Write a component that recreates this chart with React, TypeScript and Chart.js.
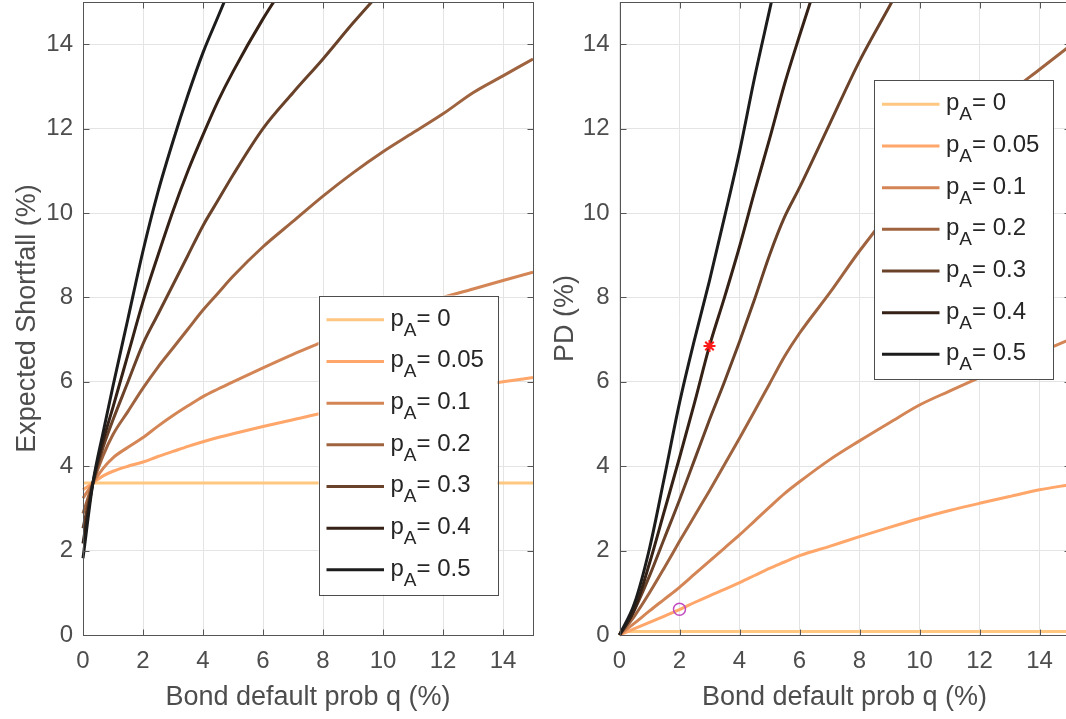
import React, { useEffect, useRef } from 'react';
import { Chart, registerables } from 'chart.js';

Chart.register(...registerables);

// ---------- data ----------
const P_A = [0, 0.05, 0.1, 0.2, 0.3, 0.4, 0.5];
const COLORS = ['#FFC77F', '#FFA66A', '#D48555', '#9F643F', '#6A422A', '#352115', '#1C1C1C'];

const X_TICKS = [0, 2, 4, 6, 8, 10, 12, 14];
const Y_TICKS = [0, 2, 4, 6, 8, 10, 12, 14];

// Left panel: Expected Shortfall (%) vs q (%)
const Q_ES = [0, 0.33, 0.67, 1, 1.5, 2, 2.5, 3, 3.5, 4, 4.5, 5, 6, 7, 8, 9, 10, 11, 12, 13, 14, 15];
const ES_P0 = [3.6, 3.6, 3.6, 3.6, 3.6, 3.6, 3.6, 3.6, 3.6, 3.6, 3.6, 3.6, 3.6, 3.6, 3.6, 3.6, 3.6, 3.6, 3.6, 3.6, 3.6, 3.6];
const ES_P005 = [3.44, 3.6, 3.77, 3.88, 4.0, 4.1, 4.23, 4.35, 4.47, 4.58, 4.68, 4.77, 4.94, 5.1, 5.26, 5.4, 5.53, 5.66, 5.78, 5.89, 6.0, 6.1];
const ES_P01 = [3.24, 3.6, 3.95, 4.2, 4.45, 4.68, 4.95, 5.2, 5.43, 5.65, 5.83, 6.0, 6.33, 6.65, 6.95, 7.25, 7.5, 7.75, 8.0, 8.2, 8.4, 8.6];
const ES_P02 = [2.88, 3.6, 4.25, 4.75, 5.3, 5.85, 6.35, 6.8, 7.25, 7.7, 8.1, 8.5, 9.2, 9.8, 10.4, 10.95, 11.45, 11.9, 12.35, 12.85, 13.25, 13.65];
const ES_P03 = [2.53, 3.6, 4.45, 5.1, 6.0, 6.9, 7.6, 8.3, 9.0, 9.7, 10.3, 10.9, 12.0, 12.85, 13.65, 14.5, 15.3, null, null, null, null, null];
const ES_P04 = [2.17, 3.6, 4.6, 5.4, 6.65, 7.9, 9.0, 10.05, 11.0, 11.85, 12.65, 13.35, 14.6, 15.7, null, null, null, null, null, null, null, null];
const ES_P05 = [1.82, 3.6, 4.8, 5.9, 7.5, 9.1, 10.5, 11.7, 12.8, 13.8, 14.65, 15.5, null, null, null, null, null, null, null, null, null, null];
const ES_SERIES = [ES_P0, ES_P005, ES_P01, ES_P02, ES_P03, ES_P04, ES_P05];

// Right panel: PD (%) vs q (%)
const Q_PD = [0, 0.5, 1, 1.5, 2, 2.5, 3, 3.5, 4, 4.5, 5, 5.5, 6, 7, 8, 9, 10, 11, 12, 13, 14, 15];
const PD_P0 = [0.08, 0.08, 0.08, 0.08, 0.08, 0.08, 0.08, 0.08, 0.08, 0.08, 0.08, 0.08, 0.08, 0.08, 0.08, 0.08, 0.08, 0.08, 0.08, 0.08, 0.08, 0.08];
const PD_P005 = [0, 0.15, 0.3, 0.45, 0.6, 0.77, 0.93, 1.08, 1.24, 1.41, 1.58, 1.73, 1.88, 2.1, 2.33, 2.55, 2.76, 2.95, 3.12, 3.28, 3.44, 3.56];
const PD_P01 = [0, 0.28, 0.57, 0.85, 1.13, 1.44, 1.75, 2.06, 2.37, 2.7, 3.03, 3.35, 3.63, 4.15, 4.6, 5.03, 5.45, 5.78, 6.1, 6.4, 6.7, 7.0];
const PD_P02 = [0, 0.45, 1.0, 1.6, 2.22, 2.82, 3.42, 4.04, 4.66, 5.3, 5.95, 6.6, 7.15, 8.1, 9.1, 10.0, 10.8, 11.55, 12.25, 12.85, 13.4, 13.95];
const PD_P03 = [0, 0.6, 1.4, 2.3, 3.2, 4.15, 5.1, 6.0, 6.95, 7.95, 9.0, 9.9, 10.6, 12.1, 13.6, 14.9, 16.2, null, null, null, null, null];
const PD_P04 = [0, 0.6, 1.7, 2.95, 4.2, 5.5, 6.85, 8.0, 9.2, 10.5, 11.75, 13.05, 14.2, 16.4, null, null, null, null, null, null, null, null];
const PD_P05 = [0, 0.75, 2.05, 3.75, 5.5, 7.0, 8.4, 9.9, 11.45, 13.2, 14.8, 16.4, null, null, null, null, null, null, null, null, null, null];
const PD_SERIES = [PD_P0, PD_P005, PD_P01, PD_P02, PD_P03, PD_P04, PD_P05];

const CIRCLE_POINT = { x: 2, y: 0.61 };
const STAR_POINT = { x: 3, y: 6.85 };

// ---------- styles ----------
const FAMILY = "'Liberation Sans', Arial, Helvetica, sans-serif";
const GRID = '#E4E4E4';
const AXIS = '#555555';
const TICK_COLOR = '#4D4D4D';
const LEGEND_TEXT = '#262626';

const boxPlugin = {
  id: 'matlabBox',
  afterDatasetsDraw(chart: any) {
    const { ctx, chartArea: a, scales } = chart;
    const L = Math.round(a.left) + 0.5;
    const R = Math.round(a.right) + 0.5;
    const T = Math.round(a.top) + 0.5;
    const B = Math.round(a.bottom) + 0.5;
    const len = 6;
    ctx.save();
    ctx.strokeStyle = AXIS;
    ctx.lineWidth = 1;
    ctx.strokeRect(L, T, R - L, B - T);
    ctx.beginPath();
    X_TICKS.forEach((v) => {
      const px = Math.round(scales.x.getPixelForValue(v)) + 0.5;
      ctx.moveTo(px, B);
      ctx.lineTo(px, B - len);
      ctx.moveTo(px, T);
      ctx.lineTo(px, T + len);
    });
    Y_TICKS.forEach((v) => {
      const py = Math.round(scales.y.getPixelForValue(v)) + 0.5;
      ctx.moveTo(L, py);
      ctx.lineTo(L + len, py);
      ctx.moveTo(R, py);
      ctx.lineTo(R - len, py);
    });
    ctx.stroke();
    ctx.restore();
  },
};

const legendPlugin = {
  id: 'pLegend',
  afterDraw(chart: any, _args: any, o: any) {
    if (!o || o.x === undefined) return;
    const ctx = chart.ctx;
    const W = 179;
    const H = 299;
    ctx.save();
    ctx.fillStyle = '#ffffff';
    ctx.fillRect(o.x, o.y, W, H);
    ctx.strokeStyle = '#4D4D4D';
    ctx.lineWidth = 1;
    ctx.strokeRect(Math.round(o.x) + 0.5, Math.round(o.y) + 0.5, W, H);
    P_A.forEach((p, i) => {
      const cy = o.y + 24.3 + i * 41.67;
      ctx.strokeStyle = COLORS[i];
      ctx.lineWidth = 3;
      ctx.beginPath();
      ctx.moveTo(o.x + 8, cy);
      ctx.lineTo(o.x + 65.5, cy);
      ctx.stroke();
      let tx = o.x + 72;
      const base = cy + 6;
      ctx.fillStyle = LEGEND_TEXT;
      ctx.textAlign = 'left';
      ctx.textBaseline = 'alphabetic';
      ctx.font = `24px ${FAMILY}`;
      ctx.fillText('p', tx, base);
      tx += ctx.measureText('p').width;
      ctx.font = `19px ${FAMILY}`;
      ctx.fillText('A', tx, base + 10);
      tx += ctx.measureText('A').width;
      ctx.font = `24px ${FAMILY}`;
      ctx.fillText(`= ${p}`, tx, base);
    });
    ctx.restore();
  },
};

function makeConfig(
  q: number[],
  series: (number | null)[][],
  yTitle: string,
  yWidth: number,
  yTitlePad: number,
  padRight: number,
  legendPos: { x: number; y: number },
  extra: any[]
): any {
  const lines = series.map((ys, i) => ({
    label: `p_A= ${P_A[i]}`,
    data: q.map((x, j) => ({ x, y: ys[j] })).filter((pt) => pt.y !== null),
    borderColor: COLORS[i],
    backgroundColor: COLORS[i],
    borderWidth: 3,
    pointRadius: 0,
    fill: false,
    cubicInterpolationMode: 'monotone',
    order: -i,
    clip: { left: 2, top: 0, right: 0, bottom: 2 },
  }));
  return {
    type: 'line',
    data: { datasets: [...lines, ...extra] },
    plugins: [boxPlugin, legendPlugin],
    options: {
      animation: false,
      responsive: false,
      events: [],
      layout: { autoPadding: false, padding: { top: 2, right: padRight, left: 0, bottom: 0 } },
      plugins: {
        legend: { display: false },
        tooltip: { enabled: false },
        pLegend: legendPos,
      },
      scales: {
        x: {
          type: 'linear',
          min: 0,
          max: 15,
          afterBuildTicks: (s: any) => {
            s.ticks = X_TICKS.map((value) => ({ value }));
          },
          afterFit: (s: any) => {
            s.height = 84;
            s.paddingLeft = 0;
            s.paddingRight = 0;
            s.paddingTop = 0;
            s.paddingBottom = 0;
          },
          grid: { color: GRID, drawTicks: false, lineWidth: 1 },
          border: { display: false },
          ticks: {
            autoSkip: false,
            maxRotation: 0,
            color: TICK_COLOR,
            font: { family: FAMILY, size: 24 },
            padding: 12,
            callback: (v: any) => String(v),
          },
          title: {
            display: true,
            text: 'Bond default prob q (%)',
            color: TICK_COLOR,
            font: { family: FAMILY, size: 27 },
            padding: { top: 0, bottom: 5 },
          },
        },
        y: {
          type: 'linear',
          min: 0,
          max: 15,
          afterBuildTicks: (s: any) => {
            s.ticks = Y_TICKS.map((value) => ({ value }));
          },
          afterFit: (s: any) => {
            s.width = yWidth;
            s.paddingLeft = 0;
            s.paddingRight = 0;
            s.paddingTop = 0;
            s.paddingBottom = 0;
          },
          grid: { color: GRID, drawTicks: false, lineWidth: 1 },
          border: { display: false },
          ticks: {
            autoSkip: false,
            color: TICK_COLOR,
            font: { family: FAMILY, size: 24 },
            padding: 10,
            callback: (v: any) => String(v),
          },
          title: {
            display: true,
            text: yTitle,
            color: TICK_COLOR,
            font: { family: FAMILY, size: 27 },
            padding: { top: yTitlePad, bottom: 0 },
          },
        },
      },
    },
  };
}

export default function App() {
  const leftRef = useRef<HTMLCanvasElement | null>(null);
  const rightRef = useRef<HTMLCanvasElement | null>(null);

  useEffect(() => {
    if (!leftRef.current || !rightRef.current) return;
    const left = new Chart(
      leftRef.current,
      makeConfig(Q_ES, ES_SERIES, 'Expected Shortfall (%)', 83, 11, 7, { x: 318.5, y: 295.5 }, [])
    );
    const markers = [
      {
        label: 'circle',
        data: [CIRCLE_POINT],
        showLine: false,
        pointStyle: 'circle',
        pointRadius: 6,
        pointBorderWidth: 1.5,
        pointBorderColor: '#C04BC0',
        pointBackgroundColor: 'rgba(0,0,0,0)',
        borderColor: '#C04BC0',
        order: -100,
      },
      {
        label: 'star',
        data: [STAR_POINT],
        showLine: false,
        pointStyle: 'star',
        pointRadius: 6,
        pointBorderWidth: 2,
        pointBorderColor: '#FF1A1A',
        pointBackgroundColor: '#FF1A1A',
        borderColor: '#FF1A1A',
        order: -101,
      },
    ];
    const right = new Chart(
      rightRef.current,
      makeConfig(Q_PD, PD_SERIES, 'PD (%)', 79.5, 9, 10.5, { x: 334, y: 80 }, markers)
    );
    return () => {
      left.destroy();
      right.destroy();
    };
  }, []);

  return (
    <div
      style={{
        position: 'absolute',
        left: 0,
        top: 0,
        width: 1066,
        height: 719,
        overflow: 'hidden',
        background: '#ffffff',
      }}
    >
      <canvas
        ref={leftRef}
        width={540}
        height={719}
        style={{ position: 'absolute', left: 0, top: 0, width: 540, height: 719 }}
      />
      <canvas
        ref={rightRef}
        width={540}
        height={719}
        style={{ position: 'absolute', left: 540, top: 0, width: 540, height: 719 }}
      />
    </div>
  );
}
